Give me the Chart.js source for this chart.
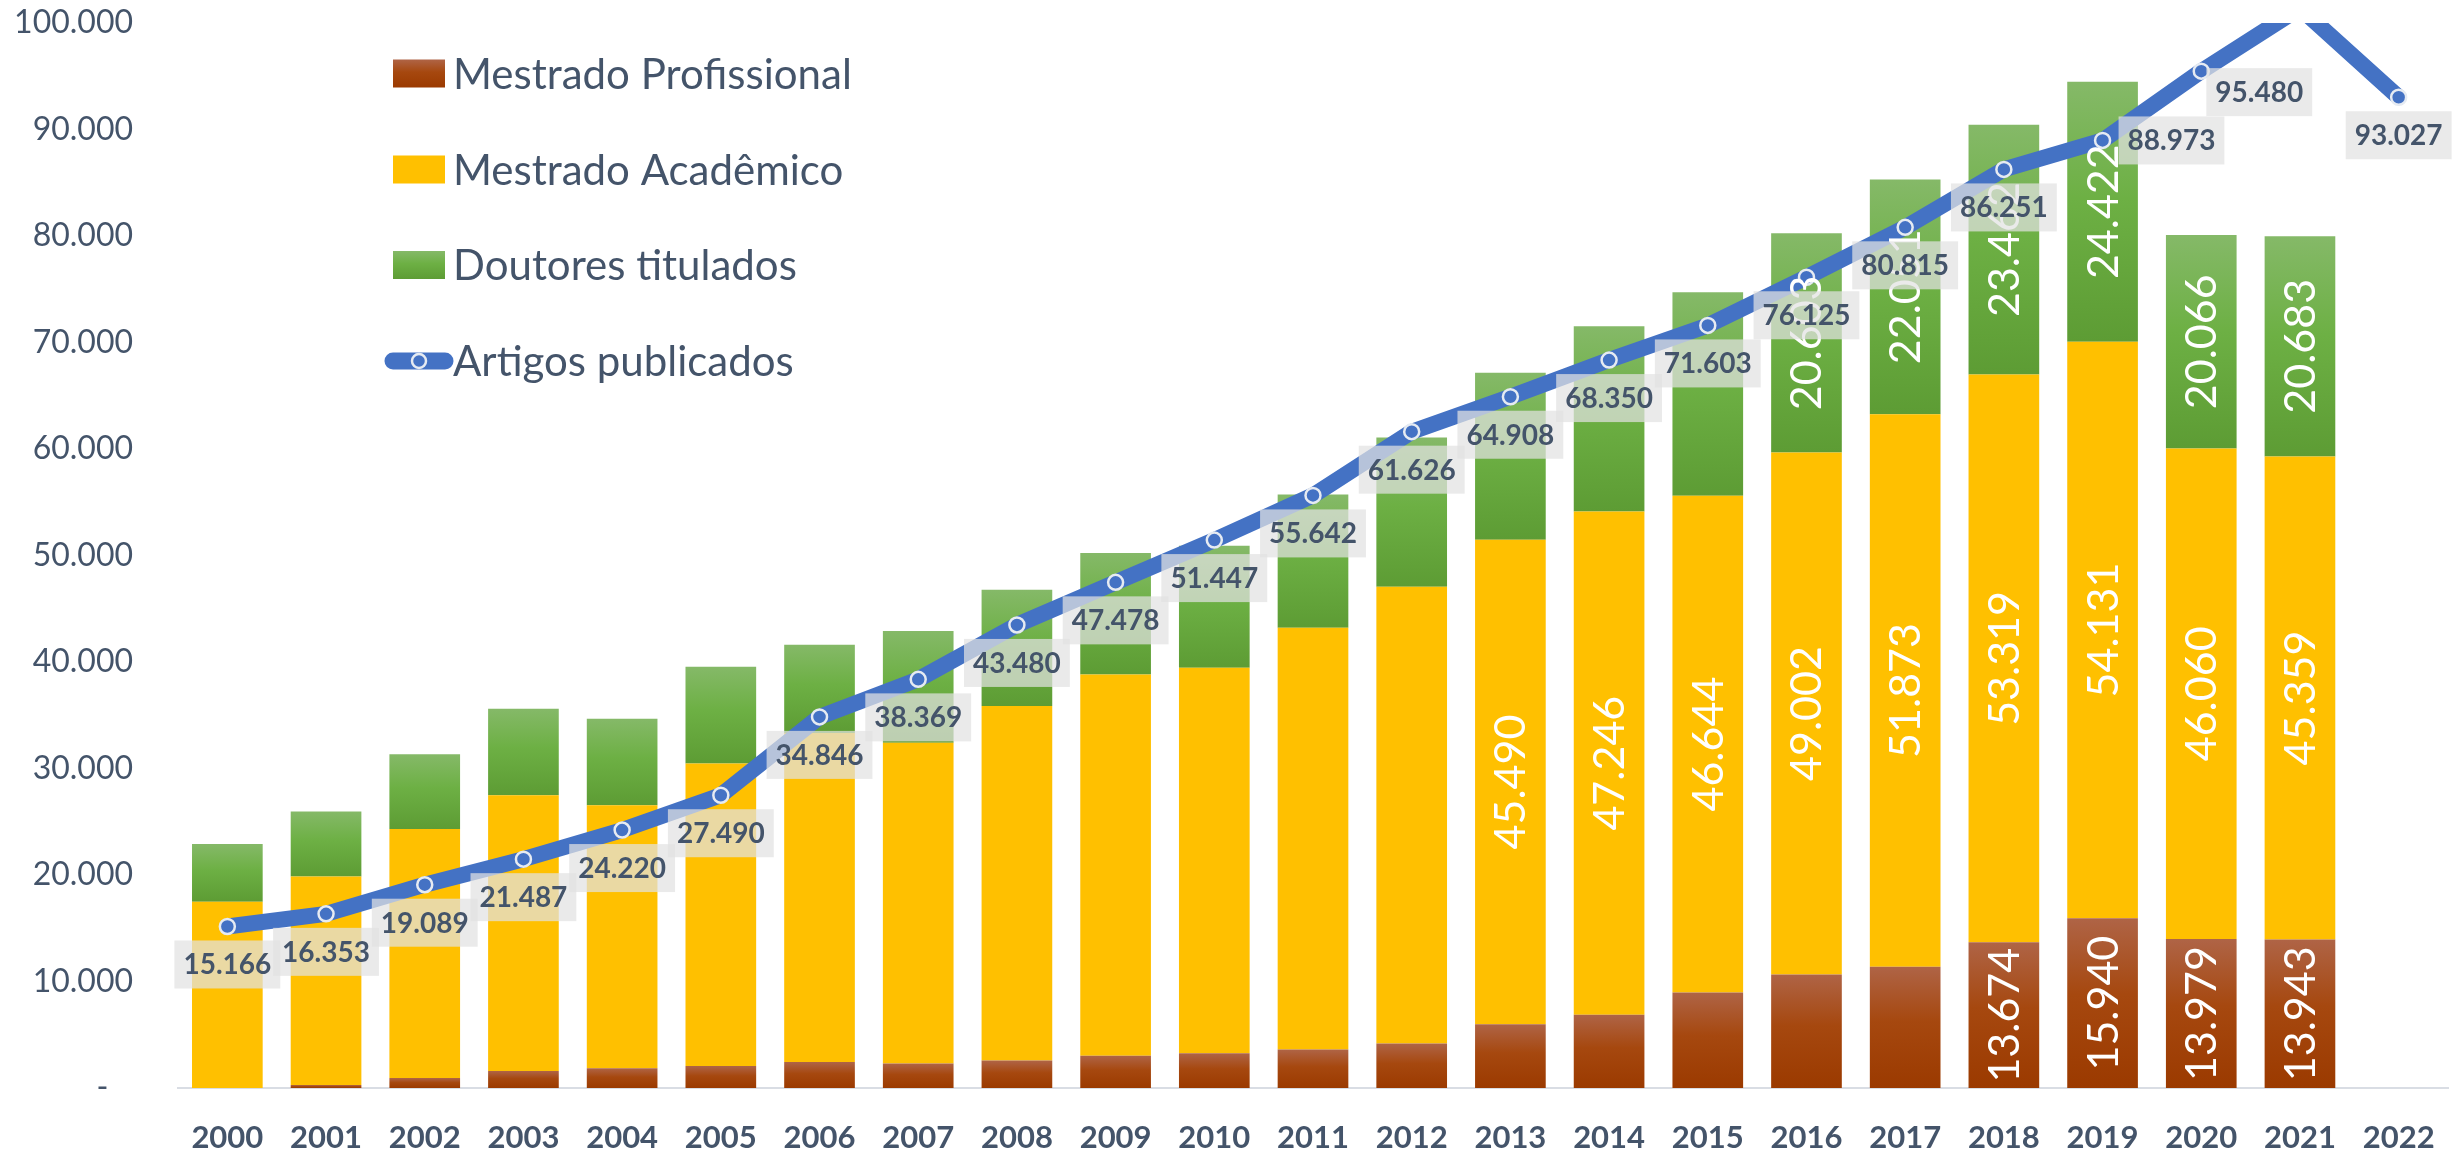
<!DOCTYPE html>
<html lang="pt-BR">
<head>
<meta charset="utf-8">
<title>Titulados e artigos publicados</title>
<script src="https://cdn.jsdelivr.net/npm/chart.js@4.4.1/dist/chart.umd.min.js"></script>
<style>
    html, body { margin: 0; padding: 0; background: #fff; }
    #wrap { width: 2458px; height: 1156px; }
</style>
</head>
<body>
<div id="wrap"><canvas id="chart" width="2458" height="1156"></canvas></div>
<script>
(function() {
    'use strict';

    // Data
    const years = ['2000', '2001', '2002', '2003', '2004', '2005', '2006', '2007', '2008', '2009', '2010',
        '2011', '2012', '2013', '2014', '2015', '2016', '2017', '2018', '2019', '2020', '2021', '2022'];

    const mestradoProfissional = [0, 270, 930, 1600, 1860, 2060, 2430, 2310, 2580, 3030, 3260,
        3620, 4170, 5980, 6880, 8970, 10660, 11390, 13674, 15940, 13979, 13943, null];

    const mestradoAcademico = [17500, 19600, 23400, 25900, 24700, 28400, 30900, 30100, 33300, 35800, 36200,
        39600, 42900, 45490, 47246, 46644, 49002, 51873, 53319, 54131, 46060, 45359, null];

    const doutoresTitulados = [5400, 6100, 7000, 8100, 8100, 9100, 8300, 10500, 10900, 11400, 11450,
        12500, 14000, 15700, 17400, 19100, 20603, 22051, 23462, 24422, 20066, 20683, null];

    const artigosPublicados = [15166, 16353, 19089, 21487, 24220, 27490, 34846, 38369, 43480, 47478, 51447,
        55642, 61626, 64908, 68350, 71603, 76125, 80815, 86251, 88973, 95480, 101400, 93027];

    const yTickValues = [0, 10000, 20000, 30000, 40000, 50000, 60000, 70000, 80000, 90000, 100000];

    // First year that shows a value label inside each bar series
    const barLabelFrom = ['2018', '2013', '2016'];

    // Line labels go below the point unless listed here
    const lineLabelPlacement = { '2019': 'right', '2020': 'belowRight' };

    const barSeries = [mestradoProfissional, mestradoAcademico, doutoresTitulados];

    // Colors
    const TEXT = '#44546A';
    const BLUE = '#4472C4';
    const YELLOW = '#FFC000';
    const BROWN_STOPS = [[0, '#af6446'], [0.45, '#a6480f'], [1, '#9b3a00']];
    const GREEN_STOPS = [[0, '#85b968'], [0.45, '#6db044'], [1, '#5d9c34']];

    Chart.defaults.font.family = 'Lato';

    function fmt(v) {
        return String(Math.round(v)).replace(/\B(?=(\d{3})+(?!\d))/g, '.');
    }

    function gradient(c, y0, y1, stops) {
        const g = c.createLinearGradient(0, y0, 0, y1);
        stops.forEach(s => g.addColorStop(s[0], s[1]));
        return g;
    }

    // Each bar segment gets its own top-to-bottom gradient
    function segmentFill(stops) {
        return function(ctx) {
            const chart = ctx.chart;
            if (ctx.type !== 'data' || !chart.chartArea || ctx.raw == null) return stops[1][1];
            const i = ctx.dataIndex;
            let base = 0;
            for (let k = 0; k < ctx.datasetIndex; k++) base += barSeries[k][i] || 0;
            const top = base + (barSeries[ctx.datasetIndex][i] || 0);
            const y0 = chart.scales.y.getPixelForValue(top);
            const y1 = chart.scales.y.getPixelForValue(base);
            if (!isFinite(y0) || !isFinite(y1) || y1 - y0 < 1) return stops[1][1];
            return gradient(chart.ctx, y0, y1, stops);
        };
    }

    // Rotated white labels in the bars, boxed labels on the line
    const valueLabels = {
        id: 'valueLabels',
        afterDatasetsDraw(chart) {
            const c = chart.ctx;
            c.save();

            c.font = '43px Lato';
            c.fillStyle = '#ffffff';
            c.textAlign = 'center';
            c.textBaseline = 'alphabetic';
            barSeries.forEach((series, di) => {
                const meta = chart.getDatasetMeta(di);
                const from = years.indexOf(barLabelFrom[di]);
                meta.data.forEach((el, i) => {
                    if (i < from || series[i] == null) return;
                    c.save();
                    c.translate(el.x, (el.y + el.base) / 2);
                    c.rotate(-Math.PI / 2);
                    c.fillText(fmt(series[i]), 0, 15);
                    c.restore();
                });
            });

            const lineMeta = chart.getDatasetMeta(3);
            const yMax = chart.scales.y.max;
            c.font = 'bold 28px Lato';
            lineMeta.data.forEach((el, i) => {
                const v = artigosPublicados[i];
                if (v == null || v > yMax) return;
                const text = fmt(v);
                const bw = c.measureText(text).width + 18;
                const bh = 48;
                let cx = el.x;
                let cy = el.y + 38;
                const place = lineLabelPlacement[years[i]];
                if (place === 'right') {
                    cx = el.x + 16 + bw / 2;
                    cy = el.y;
                } else if (place === 'belowRight') {
                    cx = el.x + 58;
                    cy = el.y + 21;
                }
                c.fillStyle = 'rgba(226, 226, 226, 0.72)';
                c.fillRect(cx - bw / 2, cy - bh / 2, bw, bh);
                c.fillStyle = TEXT;
                c.fillText(text, cx, cy + 10);
            });

            c.restore();
        }
    };

    // Legend inside the plot, top left
    const plotLegend = {
        id: 'plotLegend',
        afterDraw(chart) {
            const c = chart.ctx;
            const x0 = 393, w = 52, h = 28, textX = 453;
            const rows = [73.5, 169.5, 265, 361];
            c.save();
            c.font = '42px Lato';
            c.textAlign = 'left';
            c.textBaseline = 'alphabetic';

            chart.data.datasets.forEach((ds, i) => {
                const y = rows[i];
                if (ds.type === 'line') {
                    c.strokeStyle = BLUE;
                    c.lineWidth = 17;
                    c.lineCap = 'round';
                    c.beginPath();
                    c.moveTo(x0, y);
                    c.lineTo(x0 + w, y);
                    c.stroke();
                    c.beginPath();
                    c.arc(x0 + w / 2, y, 7, 0, Math.PI * 2);
                    c.fillStyle = BLUE;
                    c.fill();
                    c.lineWidth = 2.5;
                    c.strokeStyle = '#e6ebf2';
                    c.stroke();
                } else {
                    if (i === 0) c.fillStyle = gradient(c, y - h / 2, y + h / 2, BROWN_STOPS);
                    else if (i === 2) c.fillStyle = gradient(c, y - h / 2, y + h / 2, GREEN_STOPS);
                    else c.fillStyle = YELLOW;
                    c.fillRect(x0, y - h / 2, w, h);
                }
                c.fillStyle = TEXT;
                c.fillText(ds.label, textX, y + 15);
            });
            c.restore();
        }
    };

    const barStyle = {
        type: 'bar',
        stack: 'titulados',
        order: 1,
        borderWidth: 0,
        barPercentage: 0.716,
        categoryPercentage: 1.0
    };

    new Chart(document.getElementById('chart'), {
        data: {
            labels: years,
            datasets: [
                Object.assign({}, barStyle, {
                    label: 'Mestrado Profissional',
                    data: mestradoProfissional,
                    backgroundColor: segmentFill(BROWN_STOPS)
                }),
                Object.assign({}, barStyle, {
                    label: 'Mestrado Acadêmico',
                    data: mestradoAcademico,
                    backgroundColor: YELLOW
                }),
                Object.assign({}, barStyle, {
                    label: 'Doutores titulados',
                    data: doutoresTitulados,
                    backgroundColor: segmentFill(GREEN_STOPS)
                }),
                {
                    type: 'line',
                    label: 'Artigos publicados',
                    data: artigosPublicados,
                    order: 0,
                    clip: 0,
                    borderColor: BLUE,
                    borderWidth: 16,
                    borderJoinStyle: 'round',
                    borderCapStyle: 'round',
                    tension: 0,
                    pointRadius: 7.5,
                    pointBorderWidth: 2.5,
                    pointBackgroundColor: BLUE,
                    pointBorderColor: '#e6ebf2'
                }
            ]
        },
        options: {
            responsive: false,
            animation: false,
            events: [],
            layout: {
                padding: { top: 23, right: 0, bottom: 0, left: 0 }
            },
            plugins: {
                legend: { display: false },
                tooltip: { enabled: false }
            },
            scales: {
                x: {
                    stacked: true,
                    grid: { display: false, drawTicks: false },
                    border: { display: true, color: '#d9dde4', width: 2 },
                    ticks: {
                        color: TEXT,
                        padding: 31,
                        font: { size: 31, weight: 'bold' }
                    },
                    afterFit: function(scale) {
                        scale.height = 68;
                        scale.paddingLeft = 0;
                        scale.paddingRight = 0;
                    }
                },
                y: {
                    stacked: true,
                    min: 0,
                    max: 100000,
                    grid: { display: false, drawTicks: false },
                    border: { display: false },
                    afterBuildTicks: function(scale) {
                        scale.ticks = yTickValues.map(v => ({ value: v }));
                    },
                    ticks: {
                        color: TEXT,
                        padding: 45,
                        font: { size: 32 },
                        callback: function(value) {
                            return value === 0 ? '-   ' : fmt(value);
                        }
                    },
                    afterFit: function(scale) {
                        scale.width = 178;
                        scale.paddingTop = 0;
                        scale.paddingBottom = 0;
                    }
                }
            }
        },
        plugins: [valueLabels, plotLegend]
    });

})();
</script>
</body>
</html>
